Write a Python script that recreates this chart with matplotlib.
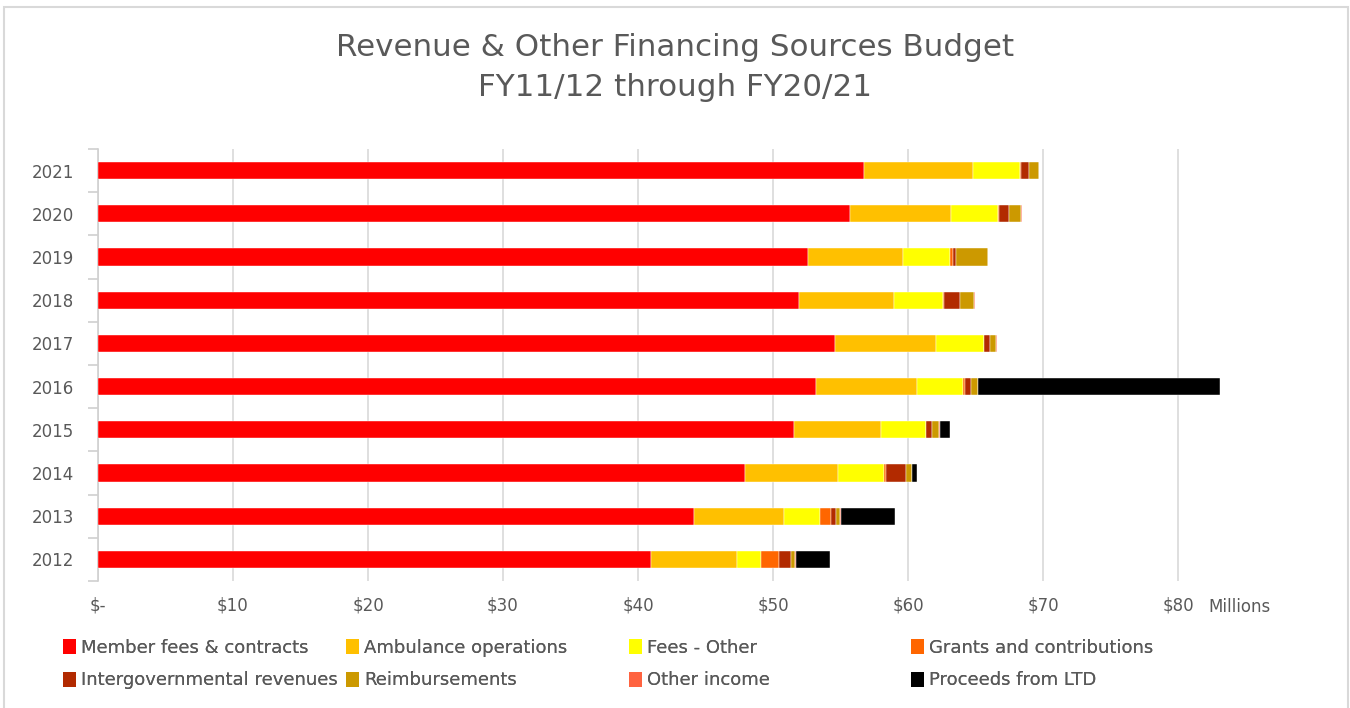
import numpy as np
import matplotlib
matplotlib.use("Agg")
import matplotlib.pyplot as plt
from matplotlib.patches import Rectangle, Patch

# dati (milioni di $), anni fiscali 2012..2021
years = ["2012", "2013", "2014", "2015", "2016", "2017", "2018", "2019", "2020", "2021"]
member_fees = [40.95, 44.14, 47.9, 51.56, 53.2, 54.6, 51.95, 52.6, 55.7, 56.75]
ambulance = [6.38, 6.66, 6.9, 6.44, 7.5, 7.5, 7.02, 7.0, 7.5, 8.05]
fees_other = [1.77, 2.65, 3.4, 3.3, 3.4, 3.5, 3.63, 3.5, 3.5, 3.5]
grants = [1.34, 0.84, 0.2, 0.07, 0.1, 0.05, 0.1, 0.2, 0.05, 0.05]
intergov = [0.89, 0.37, 1.43, 0.42, 0.45, 0.42, 1.13, 0.27, 0.7, 0.6]
reimbursements = [0.32, 0.32, 0.45, 0.5, 0.5, 0.47, 1.09, 2.32, 0.94, 0.74]
other_income = [0.05, 0.05, 0.05, 0.05, 0.05, 0.05, 0.05, 0.05, 0.05, 0.05]
proceeds_ltd = [2.5, 3.98, 0.32, 0.8, 17.9, 0.0, 0.0, 0.0, 0.0, 0.0]
ticks = [0, 10, 20, 30, 40, 50, 60, 70, 80]
tick_labels = ["$-", "$10", "$20", "$30", "$40", "$50", "$60", "$70", "$80"]

series = [
    ("Member fees & contracts", member_fees, "#FF0000"),
    ("Ambulance operations", ambulance, "#FFC000"),
    ("Fees - Other", fees_other, "#FFFF00"),
    ("Grants and contributions", grants, "#FF6600"),
    ("Intergovernmental revenues", intergov, "#B22A00"),
    ("Reimbursements", reimbursements, "#CC9900"),
    ("Other income", other_income, "#FF6340"),
    ("Proceeds from LTD", proceeds_ltd, "#000000"),
]

grey = "#595959"
plt.rcParams["font.family"] = ["DejaVu Sans"]

fig = plt.figure(figsize=(13.5, 7.08), dpi=100)
ax = fig.add_axes([98 / 1350, 1 - 581 / 708, 1134 / 1350, 432 / 708])

y = np.arange(len(years))
left = np.zeros(len(years))
for name, vals, col in series:
    vals = np.array(vals)
    ax.barh(y, vals, left=left, height=0.4, color=col, edgecolor="white",
            linewidth=0.3, label=name, zorder=3)
    left += vals

ax.set_xlim(0, 84)
ax.set_ylim(-0.5, len(years) - 0.5)
ax.set_xticks(ticks)
ax.set_xticklabels(tick_labels, color=grey, fontsize=12)
ax.set_yticks(y)
ax.set_yticklabels(years, color=grey, fontsize=12)
ax.tick_params(axis="x", length=0, pad=11)
ax.tick_params(axis="y", length=0, pad=17)

# tacche tra le categorie sull'asse verticale
ax.set_yticks(np.arange(-0.5, len(years), 1.0), minor=True)
ax.tick_params(axis="y", which="minor", length=7, color="#D0D0D0", width=1.2)

ax.grid(axis="x", color="#D9D9D9", linewidth=1.2, zorder=0)
for s in ["top", "right", "bottom"]:
    ax.spines[s].set_visible(False)
ax.spines["left"].set_color("#D0D0D0")
ax.spines["left"].set_linewidth(1.2)

fig.text(1208 / 1350, 1 - 607 / 708, "Millions", color=grey, fontsize=12,
         ha="left", va="center")

fig.text(0.5, 1 - 48 / 708, "Revenue & Other Financing Sources Budget",
         color=grey, fontsize=22.3, ha="center", va="center")
fig.text(0.5, 1 - 88 / 708, "FY11/12 through FY20/21",
         color=grey, fontsize=22.3, ha="center", va="center")

# legenda su 4 colonne con larghezza uguale
handles = [Patch(facecolor=c, label=n) for n, v, c in series]
col_x = [63, 346, 629, 911]
for i in range(4):
    leg = fig.legend(handles=[handles[i], handles[i + 4]], loc="upper left",
                     bbox_to_anchor=(col_x[i] / 1350, 1 - 639 / 708),
                     frameon=False, fontsize=13, handlelength=0.7,
                     handleheight=0.9, handletextpad=0.3, labelspacing=0.8,
                     borderpad=0, borderaxespad=0)
    for t in leg.get_texts():
        t.set_color(grey)
    fig.add_artist(leg)

fig.patches.append(Rectangle((4 / 1350, -0.05), 1344 / 1350, 1.05 - 7 / 708,
                             transform=fig.transFigure, fill=False,
                             edgecolor="#D9D9D9", linewidth=1.5))

fig.savefig("out.png", dpi=100)
